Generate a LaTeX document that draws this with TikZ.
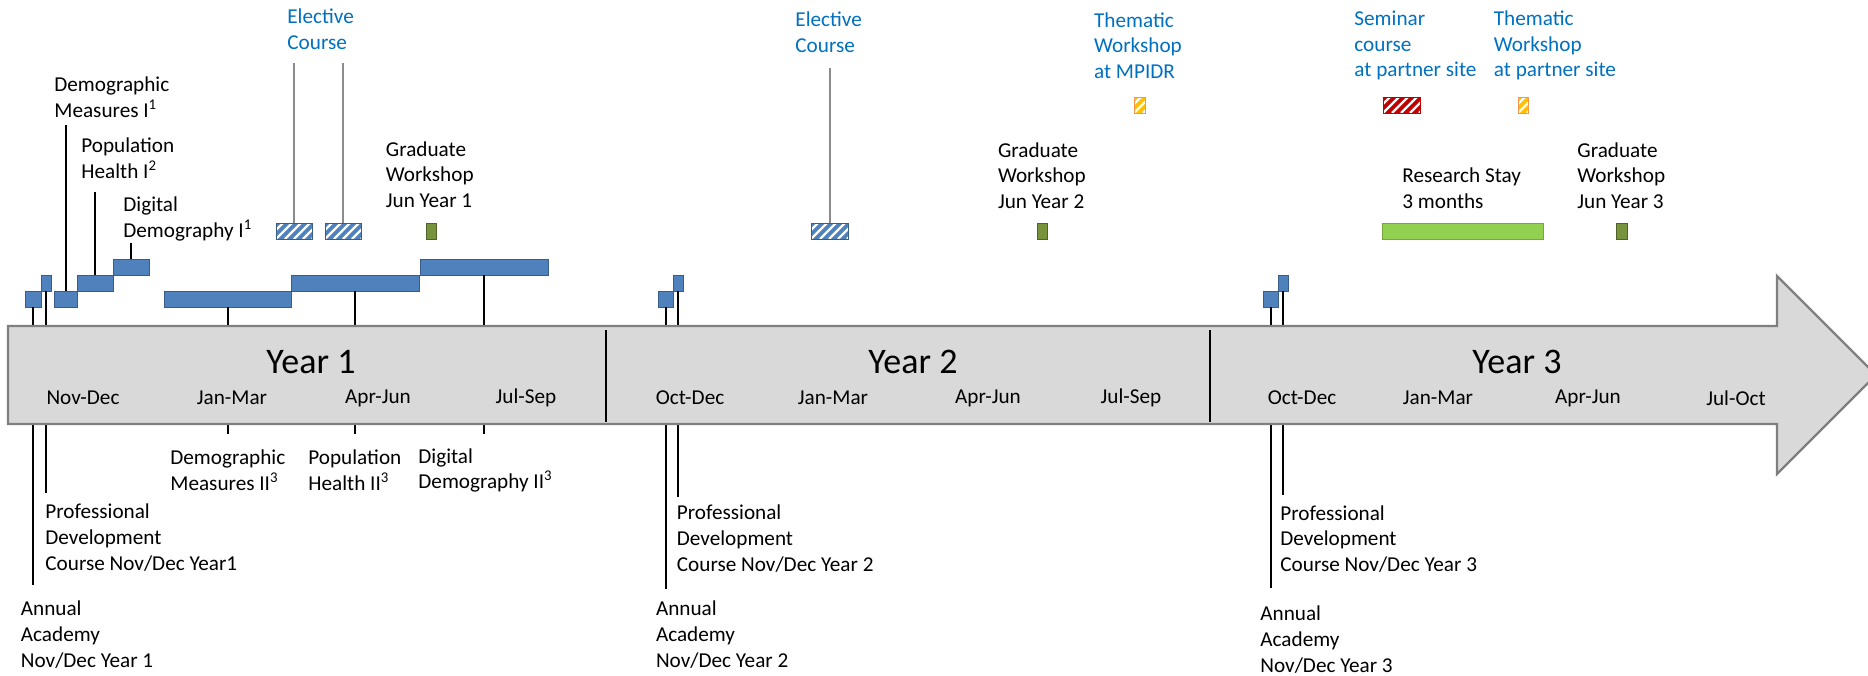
\documentclass[tikz,border=0pt]{standalone}
\usepackage{fontspec}
\setmainfont{Carlito}
\definecolor{barblue}{HTML}{4F81BD}
\definecolor{barline}{HTML}{385D8A}
\definecolor{olivefill}{HTML}{77933C}
\definecolor{oliveline}{HTML}{4F6228}
\definecolor{lightgreen}{HTML}{92D050}
\definecolor{lightgreenline}{HTML}{77A83C}
\definecolor{redfill}{HTML}{C00000}
\definecolor{orangefill}{HTML}{FFC000}
\definecolor{orangeline}{HTML}{F79646}
\definecolor{txtblue}{HTML}{0070C0}
\definecolor{arrowfill}{HTML}{D9D9D9}
\definecolor{arrowline}{HTML}{7F7F7F}
\definecolor{linegray}{HTML}{8C8C8C}
\newcommand\mkbox[6]{%
  \node[#1, minimum width={(#4-#3)*0.5pt}, minimum height={(#6-#5)*0.5pt}] (#2) at ({(#3+#4)/2},{(#5+#6)/2}) {};}
\begin{document}
\begin{tikzpicture}[x=0.5pt,y=-0.5pt,
  boxbase/.style={inner sep=0pt, outer sep=0pt, line width=0.5pt},
  bar/.style={boxbase, draw=barline, fill=barblue},
  hatch/.style={path picture={
    \foreach \k in {-12,...,12}{
      \draw[white, line width=1.2pt] ([xshift={\k*4.5pt}]path picture bounding box.south west) -- ++(20pt,20pt);
    }}},
  elbox/.style={boxbase, draw=barline, fill=barblue, hatch},
  redbox/.style={boxbase, draw=redfill, fill=redfill, hatch},
  orbox/.style={boxbase, draw=orangeline, fill=orangefill, hatch},
  gwbox/.style={boxbase, draw=oliveline, fill=olivefill},
  rsbox/.style={boxbase, draw=lightgreenline, fill=lightgreen},
  conn/.style={line width=1pt, black},
  gconn/.style={line width=1pt, linegray},
  lbl/.style={font=\fontsize{10.6}{12.8}\selectfont, align=left, anchor=west, inner sep=0pt},
  blbl/.style={lbl, text=txtblue},
  qlbl/.style={font=\fontsize{10.6}{12.8}\selectfont, inner sep=0pt},
  ylbl/.style={font=\fontsize{18}{21}\selectfont, inner sep=0pt},
  arrowshape/.style={draw=arrowline, fill=arrowfill, line width=1.2pt, line join=miter},
  divider/.style={line width=1pt, black}
]
\useasboundingbox (0,0) rectangle (1868,675);

% ---- bars ----
\mkbox{bar}{aa1}{25}{41}{291}{307}
\mkbox{bar}{pd1}{41}{51}{275}{291}
\mkbox{bar}{dm1}{54}{77}{291}{307}
\mkbox{bar}{ph1}{77}{113}{275}{291}
\mkbox{bar}{dd1}{113}{149}{259}{275}
\mkbox{bar}{dm2}{164}{291}{291}{307}
\mkbox{bar}{ph2}{291}{419}{275}{291}
\mkbox{bar}{dd2}{420}{548}{259}{275}
\mkbox{elbox}{el1}{276}{312}{223}{239}
\mkbox{elbox}{el2}{325}{361}{223}{239}
\mkbox{gwbox}{gw1}{426}{436}{223}{239}
\mkbox{bar}{aa2}{658}{673}{291}{307}
\mkbox{bar}{pd2}{673}{683}{275}{291}
\mkbox{elbox}{el3}{811}{848}{223}{239}
\mkbox{gwbox}{gw2}{1037}{1047}{223}{239}
\mkbox{orbox}{tw1}{1134}{1145}{97}{113}
\mkbox{bar}{aa3}{1263}{1278}{291}{307}
\mkbox{bar}{pd3}{1278}{1288}{275}{291}
\mkbox{redbox}{sm}{1383}{1420}{97}{113}
\mkbox{orbox}{tw2}{1518}{1528}{97}{113}
\mkbox{rsbox}{rs}{1382}{1543}{223}{239}
\mkbox{gwbox}{gw3}{1616}{1627}{223}{239}

% ---- free ends ----
\coordinate (aa1e) at (33,585);
\coordinate (pd1e) at (46,493);
\coordinate (dm1e) at (65,125);
\coordinate (ph1e) at (95,192);
\coordinate (dd1e) at (131,243);
\coordinate (tick) at (0,434);
\coordinate (el1e) at (294,63);
\coordinate (el3e) at (829,68);
\coordinate (aa2e) at (666,589);
\coordinate (pd2e) at (678,497);
\coordinate (aa3e) at (1271,588);
\coordinate (pd3e) at (1283,495);

% ---- connectors (behind the arrow) ----
\draw[conn] (aa1.south) -- (aa1.south |- aa1e);
\draw[conn] (pd1.south) -- (pd1.south |- pd1e);
\draw[conn] (dm1.north) -- (dm1.north |- dm1e);
\draw[conn] (ph1.north) -- (ph1.north |- ph1e);
\draw[conn] (dd1.north) -- (dd1.north |- dd1e);
\draw[conn] (dm2.south) -- (dm2.south |- tick);
\draw[conn] (ph2.south) -- (ph2.south |- tick);
\draw[conn] (dd2.south) -- (dd2.south |- tick);
\draw[gconn] (el1.north) -- (el1.north |- el1e);
\draw[gconn] (el2.north) -- (el2.north |- el1e);
\draw[gconn] (el3.north) -- (el3.north |- el3e);
\draw[conn] (aa2.south) -- (aa2.south |- aa2e);
\draw[conn] (pd2.south) -- (pd2.south |- pd2e);
\draw[conn] (aa3.south) -- (aa3.south |- aa3e);
\draw[conn] (pd3.south) -- (pd3.south |- pd3e);

% ---- arrow ----
\draw[arrowshape] (8,326) -- (1777,326) -- (1777,276) -- (1876,375) -- (1777,474) -- (1777,424) -- (8,424) -- cycle;
\coordinate (dv1t) at (606,330); \coordinate (dv1b) at (606,422);
\coordinate (dv2t) at (1210,330); \coordinate (dv2b) at (1210,422);
\draw[divider] (dv1t) -- (dv1b);
\draw[divider] (dv2t) -- (dv2b);

\node[ylbl] (y1) at (311,362) {Year 1};
\node[ylbl] (y2) at (913,362) {Year 2};
\node[ylbl] (y3) at (1517,362) {Year 3};
\node[qlbl] (q11) at (83,398) {Nov-Dec};
\node[qlbl] (q12) at (232,398) {Jan-Mar};
\node[qlbl] (q13) at (378,398) {Apr-Jun};
\node[qlbl] (q14) at (526,398) {Jul-Sep};
\node[qlbl] (q21) at (690,398) {Oct-Dec};
\node[qlbl] (q22) at (833,398) {Jan-Mar};
\node[qlbl] (q23) at (988,398) {Apr-Jun};
\node[qlbl] (q24) at (1131,398) {Jul-Sep};
\node[qlbl] (q31) at (1302,398) {Oct-Dec};
\node[qlbl] (q32) at (1438,398) {Jan-Mar};
\node[qlbl] (q33) at (1588,398) {Apr-Jun};
\node[qlbl] (q34) at (1736,398) {Jul-Oct};

% ---- labels above ----
\node[lbl] (dm1l) at (54,97.5) {Demographic\\Measures I\textsuperscript{1}};
\node[lbl] (ph1l) at (81,158.5) {Population\\Health I\textsuperscript{2}};
\node[lbl] (dd1l) at (123,219) {Digital\\Demography I\textsuperscript{1}};
\node[blbl] (el1l) at (287,29) {Elective\\Course};
\node[lbl] (gw1l) at (385.5,174.5) {Graduate\\Workshop\\Jun Year 1};
\node[blbl] (el3l) at (795,32.5) {Elective\\Course};
\node[lbl] (gw2l) at (997.6,175.5) {Graduate\\Workshop\\Jun Year 2};
\node[blbl] (tw1l) at (1093.7,45.5) {Thematic\\Workshop\\at MPIDR};
\node[blbl] (sml) at (1354,45.5) {Seminar\\course\\at partner site};
\node[blbl] (tw2l) at (1493.5,45.5) {Thematic\\Workshop\\at partner site};
\node[lbl] (rsl) at (1402,188.5) {Research Stay\\3 months};
\node[lbl] (gw3l) at (1577,175.5) {Graduate\\Workshop\\Jun Year 3};

% ---- labels below ----
\node[lbl] (dm2l) at (170,470.5) {Demographic\\Measures II\textsuperscript{3}};
\node[lbl] (ph2l) at (308,470.5) {Population\\Health II\textsuperscript{3}};
\node[lbl] (dd2l) at (418,470.5) {Digital\\Demography II\textsuperscript{3}};
\node[lbl] (pd1l) at (45,537.5) {Professional\\Development\\Course Nov/Dec Year1};
\node[lbl] (aa1l) at (20.5,634.5) {Annual\\Academy\\Nov/Dec Year 1};
\node[lbl] (pd2l) at (676.5,538.5) {Professional\\Development\\Course Nov/Dec Year 2};
\node[lbl] (aa2l) at (655.6,634.5) {Annual\\Academy\\Nov/Dec Year 2};
\node[lbl] (pd3l) at (1280,539) {Professional\\Development\\Course Nov/Dec Year 3};
\node[lbl] (aa3l) at (1260,639.5) {Annual\\Academy\\Nov/Dec Year 3};
\end{tikzpicture}
\end{document}
